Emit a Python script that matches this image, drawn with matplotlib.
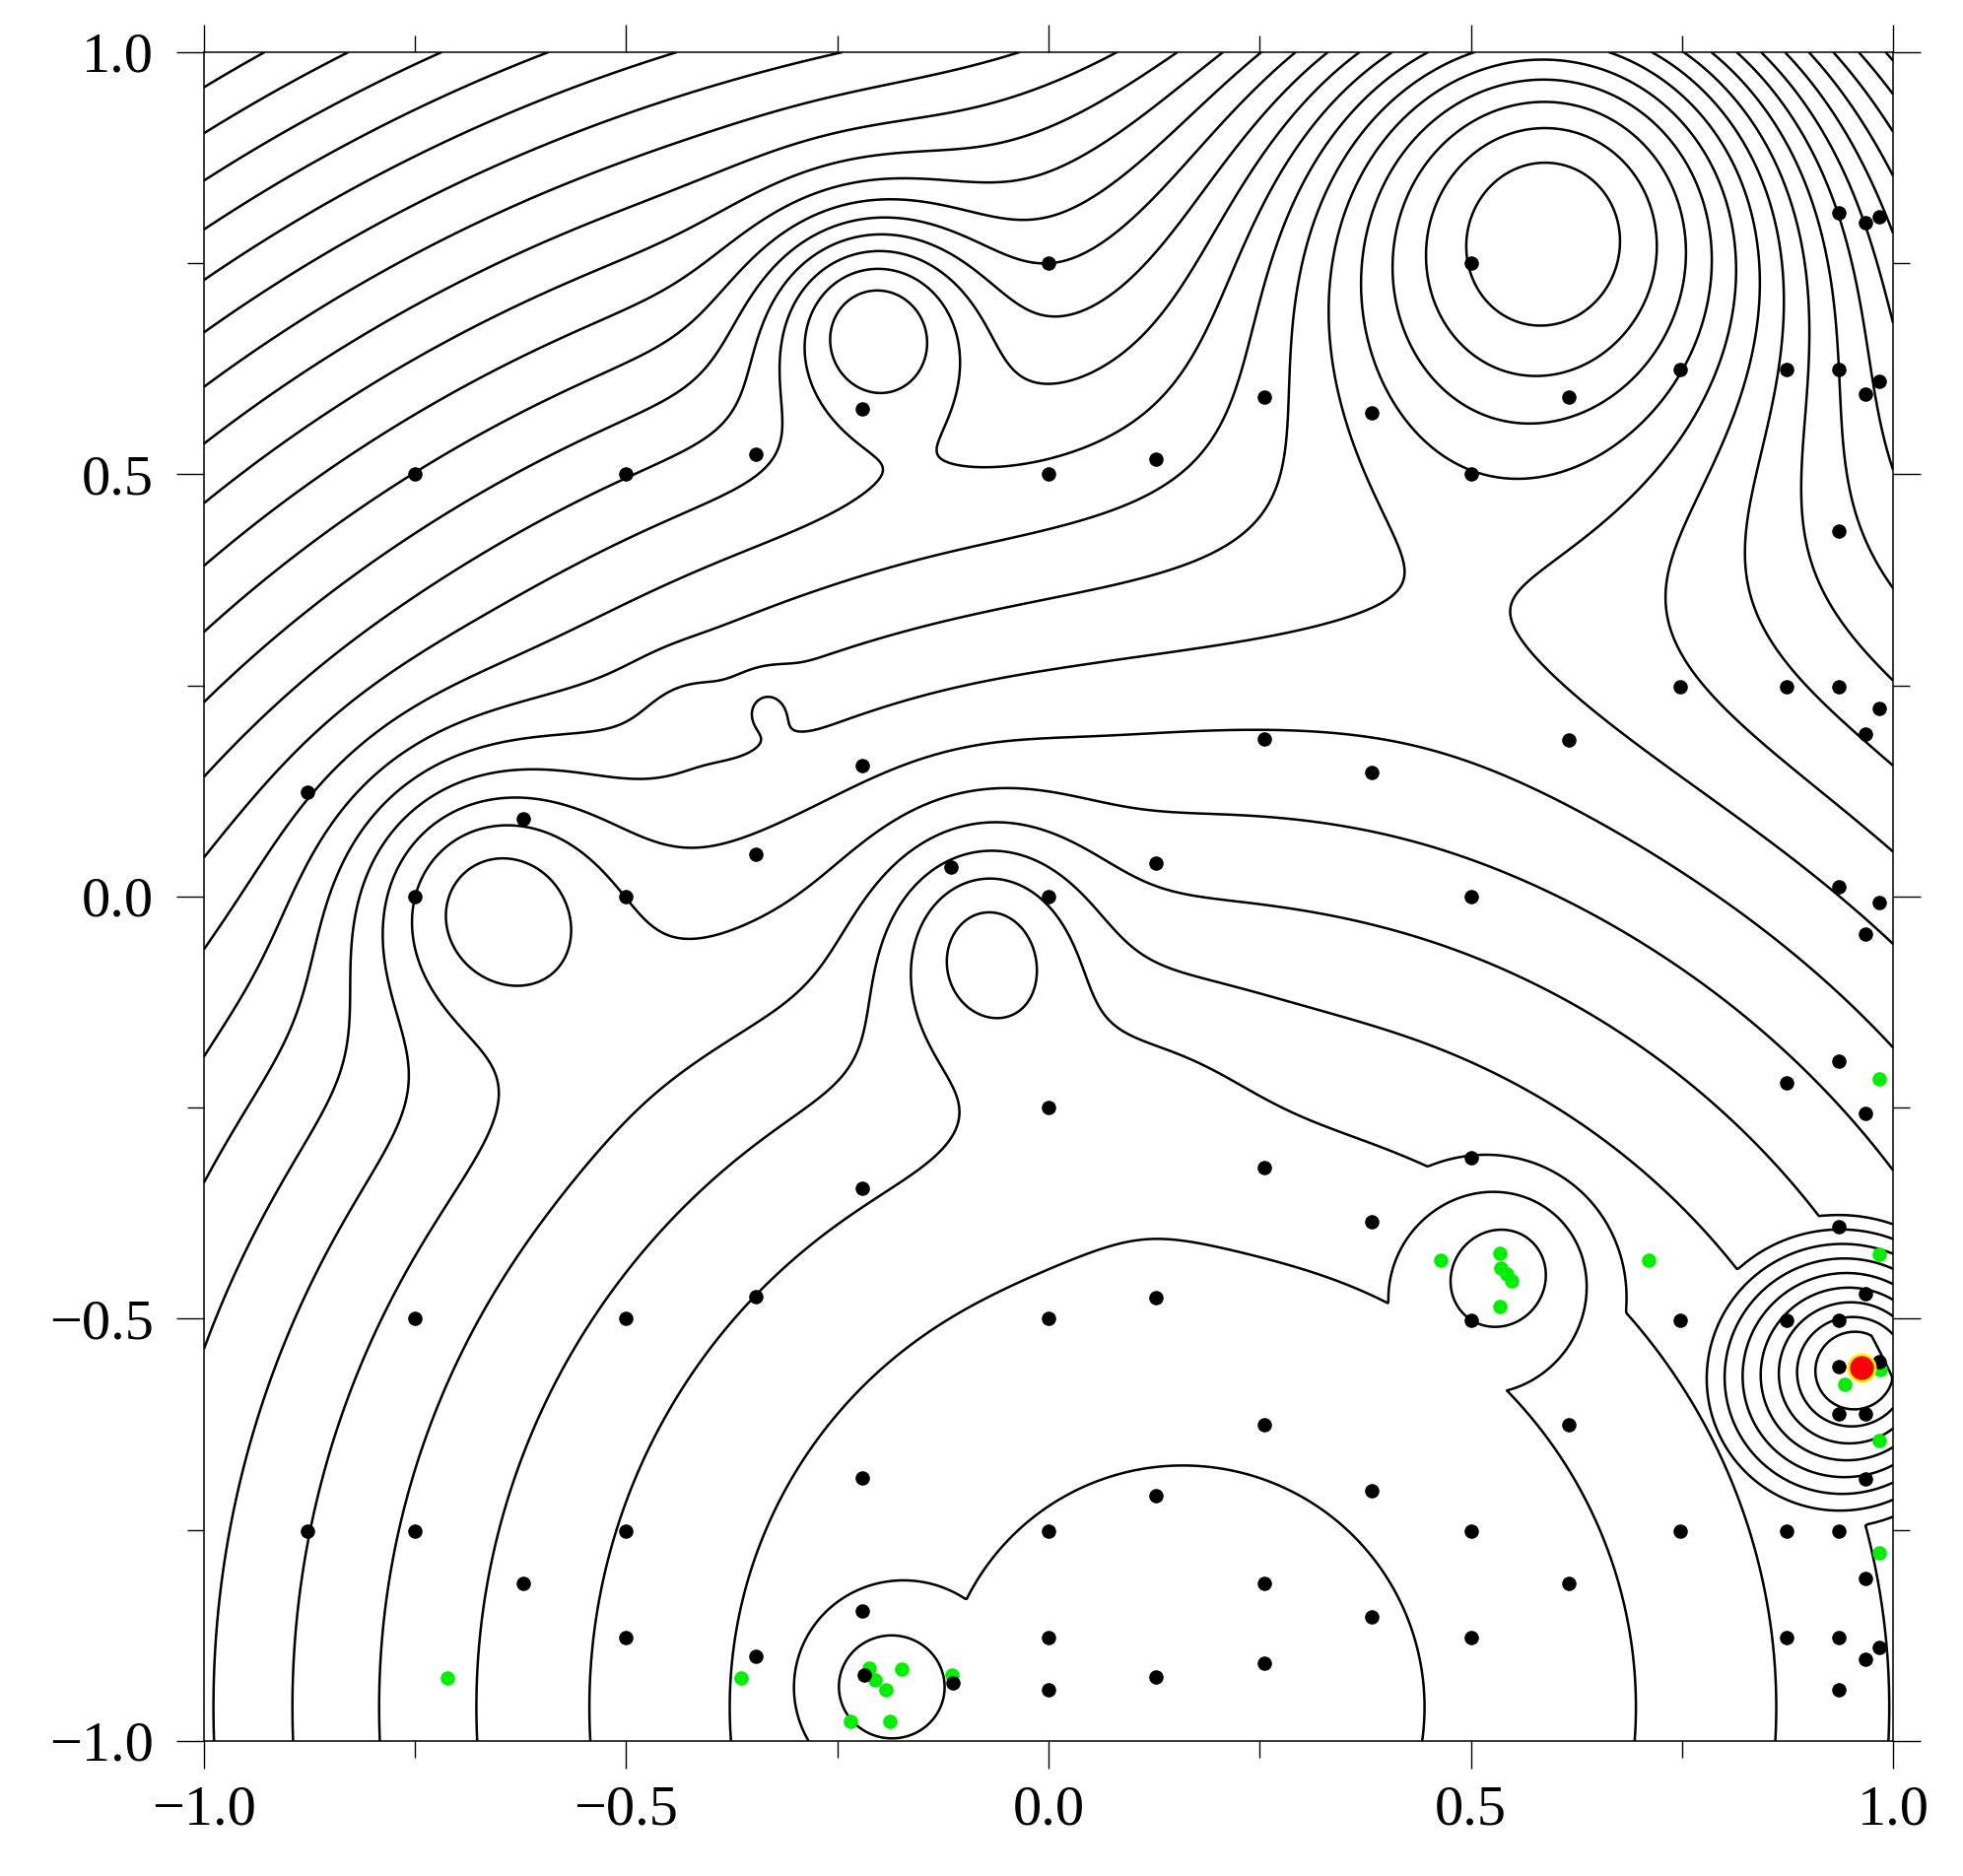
import numpy as np
import matplotlib
matplotlib.use("Agg")
import matplotlib.pyplot as plt

# ---- surface: quadratic bowl plus a set of wells ------------------------
bowl_cx, bowl_cy = 0.159, -0.96
level0, level_step = 0.0819, 0.2059
level_k = np.arange(-8, 33)

# gaussian wells: centre, depth, widths
gw_x = [-0.21, 0.607, -0.672, -0.076, 0.10, -0.335, -0.43]
gw_y = [0.69, 0.86, 0.008, -0.048, -0.22, 0.23, 0.22]
gw_depth = [1.05, 2.84, 0.82, 0.68, 0.12, 0.15, 0.10]
gw_sx = [0.09, 0.25, 0.11, 0.085, 0.10, 0.025, 0.04]
gw_sy = [0.09, 0.25, 0.11, 0.095, 0.10, 0.025, 0.04]

# conical wells: centre, slope, radius, max depth
cw_x = [0.961, 0.545, -0.20]
cw_y = [-0.558, -0.435, -0.935]
cw_slope = [11.0, 3.5, 3.0]
cw_rad = [0.186, 0.15, 0.145]
cw_cap = [1.6, 0.4, 1.0]

# ---- markers -------------------------------------------------------------
black_x = [0.0, 0.5, -0.22, -0.75, -0.5, -0.346, 0.0, 0.127, 0.255, 0.383, 0.5,
           0.616, 0.748, 0.874, 0.936, 0.936, 0.967, 0.984, 0.967, 0.984, 0.936,
           0.748, 0.874, 0.936, 0.984, 0.967, 0.616, 0.255, 0.383, -0.22, -0.877,
           -0.622, -0.346, -0.115, 0.127, -0.75, -0.5, 0.0, 0.5, 0.936, 0.984,
           0.967, 0.936, 0.874, 0.967, 0.0, 0.255, 0.5, -0.22, 0.383, 0.936,
           -0.346, -0.75, -0.5, 0.0, 0.127, 0.5, 0.748, 0.874, 0.936, 0.967,
           0.936, 0.984, 0.936, 0.967, 0.255, 0.616, -0.22, 0.383, 0.127, 0.967,
           -0.877, -0.75, -0.5, 0.0, 0.5, 0.748, 0.874, 0.936, 0.967, -0.622,
           0.255, 0.616, -0.22, 0.383, -0.5, 0.0, 0.5, 0.874, 0.936, 0.984,
           0.967, -0.346, 0.255, -0.218, -0.113, 0.127, 0.0, 0.936]
black_y = [0.75, 0.75, 0.578, 0.5, 0.5, 0.524, 0.5, 0.518, 0.592, 0.573, 0.5,
           0.592, 0.624, 0.624, 0.624, 0.81, 0.798, 0.805, 0.595, 0.61, 0.433,
           0.249, 0.249, 0.249, 0.223, 0.193, 0.186, 0.187, 0.147, 0.155, 0.124,
           0.092, 0.05, 0.035, 0.039, 0.0, 0.0, 0.0, 0.0, 0.012, -0.007,
           -0.045, -0.195, -0.221, -0.257, -0.25, -0.321, -0.309, -0.345, -0.385, -0.391,
           -0.474, -0.5, -0.5, -0.5, -0.475, -0.502, -0.502, -0.502, -0.502, -0.470,
           -0.557, -0.551, -0.613, -0.613, -0.626, -0.626, -0.689, -0.704, -0.71, -0.69,
           -0.751, -0.751, -0.751, -0.751, -0.751, -0.751, -0.751, -0.751, -0.807, -0.813,
           -0.813, -0.813, -0.846, -0.853, -0.877, -0.877, -0.877, -0.877, -0.877, -0.889,
           -0.903, -0.9, -0.908, -0.922, -0.931, -0.924, -0.94, -0.94]

green_x = [0.984, 0.984, 0.464, 0.534, 0.536, 0.542, 0.548, 0.534, 0.71, 0.943,
           0.985, 0.984, 0.984, -0.712, -0.364, -0.212, -0.174, -0.205, -0.193,
           -0.114, -0.235, -0.188]
green_y = [-0.216, -0.424, -0.431, -0.422, -0.44, -0.447, -0.455, -0.485, -0.431, -0.578,
           -0.56, -0.644, -0.777, -0.925, -0.925, -0.914, -0.915, -0.928, -0.94,
           -0.922, -0.977, -0.977]

red_x, red_y = 0.962, -0.558

# ---- build the field -----------------------------------------------------
n = 1201
gx = np.linspace(-1, 1, n)
X, Y = np.meshgrid(gx, gx)
Z = (X - bowl_cx) ** 2 + (Y - bowl_cy) ** 2
for x0, y0, a, sx, sy in zip(gw_x, gw_y, gw_depth, gw_sx, gw_sy):
    Z -= a * np.exp(-0.5 * (((X - x0) / sx) ** 2 + ((Y - y0) / sy) ** 2))
for x0, y0, m, r, cap in zip(cw_x, cw_y, cw_slope, cw_rad, cw_cap):
    d = np.hypot(X - x0, Y - y0)
    Z -= np.clip(m * (r - d), 0, cap)
levels = level0 + level_step * level_k

# ---- draw ----------------------------------------------------------------
plt.rcParams["font.family"] = ["Liberation Serif", "DejaVu Serif"]
fig = plt.figure(figsize=(19.92, 19.04), dpi=100)
ax = fig.add_axes([0.1039, 0.0720, 0.8605, 0.9002])
ax.contour(X, Y, Z, levels=levels, colors="k", linewidths=1.8,
           linestyles="solid")
ax.scatter(green_x, green_y, s=110, color="#00ee00", zorder=3, linewidths=0)
ax.scatter(black_x, black_y, s=110, color="k", zorder=4, linewidths=0)
ax.scatter([red_x], [red_y], s=380, color="#ff0000", edgecolors="#ffee00",
           linewidths=2.0, zorder=5)

ax.set_xlim(-1, 1)
ax.set_ylim(-1, 1)
ax.set_xticks([-1, -0.5, 0, 0.5, 1])
ax.set_yticks([-1, -0.5, 0, 0.5, 1])
ax.set_xticks(np.arange(-1, 1.01, 0.25), minor=True)
ax.set_yticks(np.arange(-1, 1.01, 0.25), minor=True)
ax.set_xticklabels(["\u22121.0", "\u22120.5", "0.0", "0.5", "1.0"])
ax.set_yticklabels(["\u22121.0", "\u22120.5", "0.0", "0.5", "1.0"])
ax.tick_params(which="both", direction="out", top=True, right=True,
               width=1.0, labelsize=42)
ax.tick_params(which="major", length=20)
ax.tick_params(which="minor", length=12)
ax.tick_params(axis="x", pad=12)
ax.tick_params(axis="y", pad=17)
for sp in ax.spines.values():
    sp.set_linewidth(1.1)

fig.savefig("out.png", dpi=100)
